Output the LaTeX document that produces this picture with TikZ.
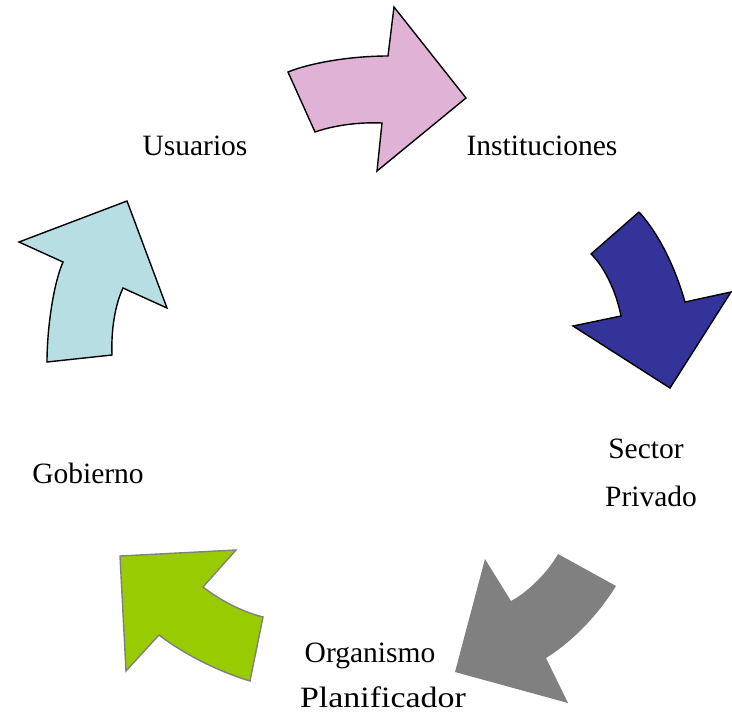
\documentclass[tikz,border=0pt]{standalone}
\usepackage{graphicx}
\usepackage{fontspec}
\setmainfont{Liberation Serif}
\begin{document}
\begin{tikzpicture}[x=1pt,y=-1pt,
  lbl/.style={font=\fontsize{29.5}{34}\selectfont, inner sep=0pt, anchor=base},
  arr/.style={line width=1.4pt, line join=miter}]
\definecolor{pinkc}{RGB}{224,179,214}
\definecolor{navyc}{RGB}{51,51,153}
\definecolor{grayc}{RGB}{128,128,128}
\definecolor{greenc}{RGB}{153,204,0}
\definecolor{bluec}{RGB}{183,223,227}
\useasboundingbox (0,0) rectangle (732,713);
% pink arrow
\draw[arr, fill=pinkc] (288,72) .. controls (310,63) and (350,56) .. (388,56)
  -- (394,7) -- (466,98) -- (377,171) -- (382,123)
  .. controls (360,122) and (335,125) .. (315,132) -- cycle;
% navy arrow
\draw[arr, fill=navyc] (639,212) -- (591,254)
  .. controls (603,265) and (616,290) .. (621,316)
  -- (573,326) -- (670,388) -- (731,292) -- (685,302)
  .. controls (676,270) and (660,235) .. (639,212);
% gray arrow
\fill[grayc] (558,554) -- (616,586)
  .. controls (600,612) and (575,640) .. (546,658)
  -- (568,703) -- (455,672) -- (485,559) -- (511,601)
  .. controls (528,592) and (548,572) .. (558,554);
% green arrow
\draw[arr, draw=grayc, fill=greenc] (120,556) -- (236,550) -- (203,587)
  .. controls (220,600) and (240,611) .. (263,617)
  -- (250,681)
  .. controls (220,672) and (185,655) .. (159,635)
  -- (126,671) -- cycle;
% light blue arrow
\draw[arr, fill=bluec] (127,201) -- (19,242) -- (63,262)
  .. controls (53,285) and (47,330) .. (47,362)
  -- (112,355)
  .. controls (111,330) and (115,305) .. (123,288)
  -- (167,308) -- cycle;
% labels
\node[lbl] (usu) at (195,155) {Usuarios};
\node[lbl] (ins) at (542,155) {Instituciones};
\node[lbl] (sec) at (646,458) {Sector};
\node[lbl] (pri) at (651,506) {Privado};
\node[lbl] (org) at (370,662) {Organismo};
\node[lbl] (pla) at (383,707) {\scalebox{1.15}[1]{Planificador}};
\node[lbl] (gob) at (88,483) {Gobierno};
\end{tikzpicture}
\end{document}
